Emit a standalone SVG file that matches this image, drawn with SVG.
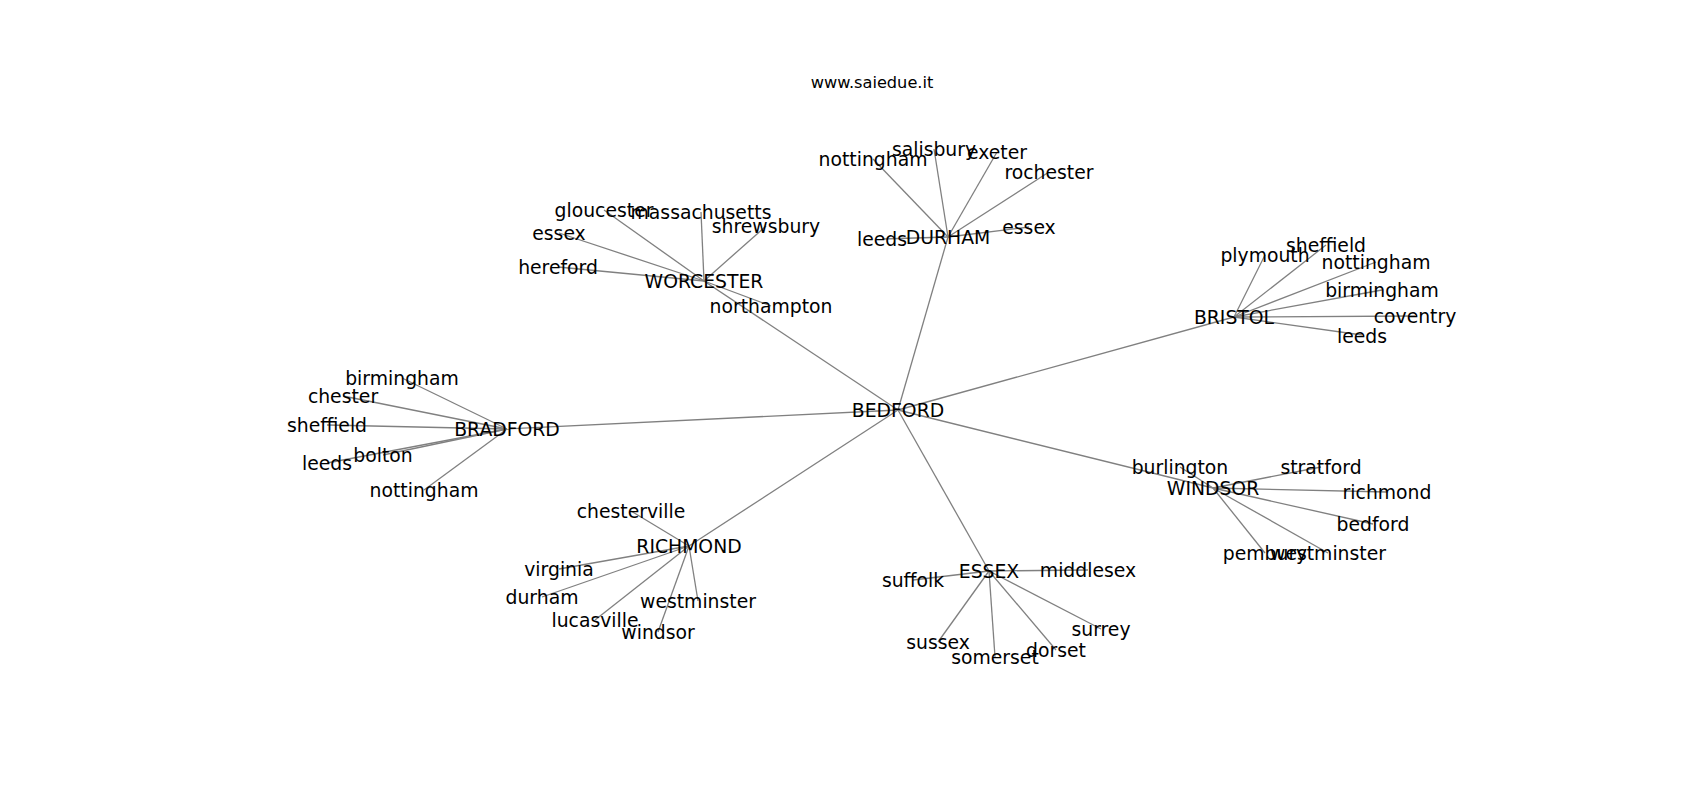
<svg xmlns="http://www.w3.org/2000/svg" width="1700" height="800" viewBox="0 0 1700 800">
<style>
.e{stroke:#808080;stroke-width:1.3;fill:none}
text{font-family:"DejaVu Sans","Liberation Sans",sans-serif;fill:#000;text-anchor:middle}
.n{font-size:18.8px}
.t{font-size:16.2px}
</style>
<rect width="1700" height="800" fill="#fff"/>
<text class="t" x="872" y="88">www.saiedue.it</text>
<g id="connectors">
<line class="e" x1="898" y1="410" x2="704" y2="281"/>
<line class="e" x1="898" y1="410" x2="948" y2="237"/>
<line class="e" x1="898" y1="410" x2="1234" y2="317"/>
<line class="e" x1="898" y1="410" x2="507" y2="429"/>
<line class="e" x1="898" y1="410" x2="689" y2="546"/>
<line class="e" x1="898" y1="410" x2="989" y2="571"/>
<line class="e" x1="898" y1="410" x2="1213" y2="488"/>
<line class="e" x1="704" y1="281" x2="604" y2="210"/>
<line class="e" x1="704" y1="281" x2="701" y2="212"/>
<line class="e" x1="704" y1="281" x2="766" y2="226"/>
<line class="e" x1="704" y1="281" x2="559" y2="233"/>
<line class="e" x1="704" y1="281" x2="558" y2="267"/>
<line class="e" x1="704" y1="281" x2="771" y2="306"/>
<line class="e" x1="948" y1="237" x2="873" y2="159"/>
<line class="e" x1="948" y1="237" x2="934" y2="149"/>
<line class="e" x1="948" y1="237" x2="997" y2="152"/>
<line class="e" x1="948" y1="237" x2="1049" y2="172"/>
<line class="e" x1="948" y1="237" x2="1029" y2="227"/>
<line class="e" x1="948" y1="237" x2="882" y2="239"/>
<line class="e" x1="1234" y1="317" x2="1265" y2="255"/>
<line class="e" x1="1234" y1="317" x2="1326" y2="245"/>
<line class="e" x1="1234" y1="317" x2="1376" y2="262"/>
<line class="e" x1="1234" y1="317" x2="1382" y2="290"/>
<line class="e" x1="1234" y1="317" x2="1415" y2="316"/>
<line class="e" x1="1234" y1="317" x2="1362" y2="335"/>
<line class="e" x1="507" y1="429" x2="402" y2="378"/>
<line class="e" x1="507" y1="429" x2="343" y2="396"/>
<line class="e" x1="507" y1="429" x2="327" y2="425"/>
<line class="e" x1="507" y1="429" x2="383" y2="455"/>
<line class="e" x1="507" y1="429" x2="327" y2="463"/>
<line class="e" x1="507" y1="429" x2="424" y2="490"/>
<line class="e" x1="689" y1="546" x2="631" y2="511"/>
<line class="e" x1="689" y1="546" x2="559" y2="569"/>
<line class="e" x1="689" y1="546" x2="542" y2="597"/>
<line class="e" x1="689" y1="546" x2="595" y2="620"/>
<line class="e" x1="689" y1="546" x2="658" y2="632"/>
<line class="e" x1="689" y1="546" x2="698" y2="601"/>
<line class="e" x1="989" y1="571" x2="913" y2="580"/>
<line class="e" x1="989" y1="571" x2="1088" y2="570"/>
<line class="e" x1="989" y1="571" x2="1101" y2="629"/>
<line class="e" x1="989" y1="571" x2="938" y2="642"/>
<line class="e" x1="989" y1="571" x2="995" y2="657"/>
<line class="e" x1="989" y1="571" x2="1056" y2="650"/>
<line class="e" x1="1213" y1="488" x2="1180" y2="467"/>
<line class="e" x1="1213" y1="488" x2="1321" y2="467"/>
<line class="e" x1="1213" y1="488" x2="1387" y2="492"/>
<line class="e" x1="1213" y1="488" x2="1373" y2="524"/>
<line class="e" x1="1213" y1="488" x2="1265" y2="553"/>
<line class="e" x1="1213" y1="488" x2="1328" y2="553"/>
</g>
<g id="labels" transform="translate(0,1.5)">
<g id="node-bedford"><text class="n" x="898" y="415">BEDFORD</text></g>
<g id="node-worcester"><text class="n" x="704" y="286">WORCESTER</text></g>
<g id="node-worcester-gloucester"><text class="n" x="604" y="215">gloucester</text></g>
<g id="node-worcester-massachusetts"><text class="n" x="701" y="217">massachusetts</text></g>
<g id="node-worcester-shrewsbury"><text class="n" x="766" y="231">shrewsbury</text></g>
<g id="node-worcester-essex"><text class="n" x="559" y="238">essex</text></g>
<g id="node-worcester-hereford"><text class="n" x="558" y="272">hereford</text></g>
<g id="node-worcester-northampton"><text class="n" x="771" y="311">northampton</text></g>
<g id="node-durham"><text class="n" x="948" y="242">DURHAM</text></g>
<g id="node-durham-nottingham"><text class="n" x="873" y="164">nottingham</text></g>
<g id="node-durham-salisbury"><text class="n" x="934" y="154">salisbury</text></g>
<g id="node-durham-exeter"><text class="n" x="997" y="157">exeter</text></g>
<g id="node-durham-rochester"><text class="n" x="1049" y="177">rochester</text></g>
<g id="node-durham-essex"><text class="n" x="1029" y="232">essex</text></g>
<g id="node-durham-leeds"><text class="n" x="882" y="244">leeds</text></g>
<g id="node-bristol"><text class="n" x="1234" y="322">BRISTOL</text></g>
<g id="node-bristol-plymouth"><text class="n" x="1265" y="260">plymouth</text></g>
<g id="node-bristol-sheffield"><text class="n" x="1326" y="250">sheffield</text></g>
<g id="node-bristol-nottingham"><text class="n" x="1376" y="267">nottingham</text></g>
<g id="node-bristol-birmingham"><text class="n" x="1382" y="295">birmingham</text></g>
<g id="node-bristol-coventry"><text class="n" x="1415" y="321">coventry</text></g>
<g id="node-bristol-leeds"><text class="n" x="1362" y="341">leeds</text></g>
<g id="node-bradford"><text class="n" x="507" y="434">BRADFORD</text></g>
<g id="node-bradford-birmingham"><text class="n" x="402" y="383">birmingham</text></g>
<g id="node-bradford-chester"><text class="n" x="343" y="401">chester</text></g>
<g id="node-bradford-sheffield"><text class="n" x="327" y="430">sheffield</text></g>
<g id="node-bradford-bolton"><text class="n" x="383" y="460">bolton</text></g>
<g id="node-bradford-leeds"><text class="n" x="327" y="468">leeds</text></g>
<g id="node-bradford-nottingham"><text class="n" x="424" y="495">nottingham</text></g>
<g id="node-richmond"><text class="n" x="689" y="551">RICHMOND</text></g>
<g id="node-richmond-chesterville"><text class="n" x="631" y="516">chesterville</text></g>
<g id="node-richmond-virginia"><text class="n" x="559" y="574">virginia</text></g>
<g id="node-richmond-durham"><text class="n" x="542" y="602">durham</text></g>
<g id="node-richmond-lucasville"><text class="n" x="595" y="625">lucasville</text></g>
<g id="node-richmond-windsor"><text class="n" x="658" y="637">windsor</text></g>
<g id="node-richmond-westminster"><text class="n" x="698" y="606">westminster</text></g>
<g id="node-essex"><text class="n" x="989" y="576">ESSEX</text></g>
<g id="node-essex-suffolk"><text class="n" x="913" y="585">suffolk</text></g>
<g id="node-essex-middlesex"><text class="n" x="1088" y="575">middlesex</text></g>
<g id="node-essex-surrey"><text class="n" x="1101" y="634">surrey</text></g>
<g id="node-essex-sussex"><text class="n" x="938" y="647">sussex</text></g>
<g id="node-essex-somerset"><text class="n" x="995" y="662">somerset</text></g>
<g id="node-essex-dorset"><text class="n" x="1056" y="655">dorset</text></g>
<g id="node-windsor"><text class="n" x="1213" y="493">WINDSOR</text></g>
<g id="node-windsor-burlington"><text class="n" x="1180" y="472">burlington</text></g>
<g id="node-windsor-stratford"><text class="n" x="1321" y="472">stratford</text></g>
<g id="node-windsor-richmond"><text class="n" x="1387" y="497">richmond</text></g>
<g id="node-windsor-bedford"><text class="n" x="1373" y="529">bedford</text></g>
<g id="node-windsor-pembury"><text class="n" x="1265" y="558">pembury</text></g>
<g id="node-windsor-westminster"><text class="n" x="1328" y="558">westminster</text></g>
</g>
</svg>
